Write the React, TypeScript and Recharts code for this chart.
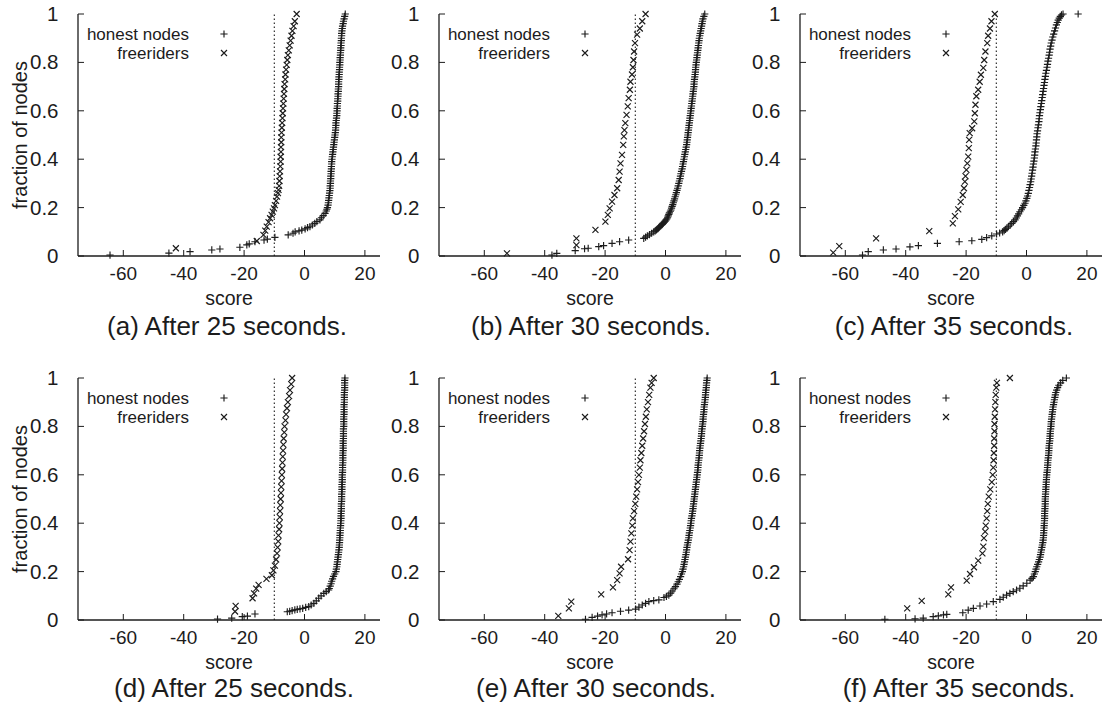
import { Legend, ReferenceLine, Scatter, ScatterChart, XAxis, YAxis } from 'recharts'

type Pt = [number, number] // [score, fraction of nodes]

const xTicks = [-60, -40, -20, 0, 20]
const yTicks = [0, 0.2, 0.4, 0.6, 0.8, 1]
const threshold = -10
const captions = [
  '(a) After 25 seconds.',
  '(b) After 30 seconds.',
  '(c) After 35 seconds.',
  '(d) After 25 seconds.',
  '(e) After 30 seconds.',
  '(f) After 35 seconds.',
]

// (a)
const honestA: Pt[] = [
  [-64.4, 0.004], [-44.9, 0.012], [-37.9, 0.018], [-30.7, 0.025], [-28, 0.029], [-21.4, 0.036],
  [-19.1, 0.046], [-18.3, 0.05], [-16.4, 0.059], [-13.4, 0.066], [-12.3, 0.07], [-9.8, 0.077],
  [-5.4, 0.087], [-3.8, 0.094], [-3.1, 0.1], [-1.8, 0.104], [-0.9, 0.107], [0.2, 0.112], [1, 0.117],
  [1.8, 0.121], [2.6, 0.128], [3.4, 0.135], [4.1, 0.142], [5.1, 0.149], [5.6, 0.158], [6.2, 0.167],
  [6.8, 0.176], [7.2, 0.186], [7.4, 0.193],
  [7.6, 0.2], [7.8, 0.21], [7.9, 0.22], [8.0, 0.23], [8.1, 0.24], [8.2, 0.25], [8.3, 0.26], [8.4, 0.27],
  [8.5, 0.28], [8.5, 0.29], [8.6, 0.3], [8.6, 0.31], [8.7, 0.32], [8.7, 0.33], [8.8, 0.34], [8.8, 0.35],
  [8.9, 0.36], [8.9, 0.37], [9.0, 0.38], [9.0, 0.39], [9.1, 0.4], [9.2, 0.41], [9.3, 0.42], [9.4, 0.43],
  [9.5, 0.44], [9.6, 0.45], [9.7, 0.46], [9.8, 0.47], [9.9, 0.48], [10.0, 0.49], [10.1, 0.5],
  [10.2, 0.51], [10.3, 0.52], [10.3, 0.53], [10.4, 0.54], [10.4, 0.55], [10.5, 0.56], [10.6, 0.57],
  [10.7, 0.58], [10.7, 0.59], [10.8, 0.6], [10.8, 0.61], [10.9, 0.62], [10.9, 0.63], [11.0, 0.64],
  [11.0, 0.65], [11.1, 0.66], [11.1, 0.67], [11.2, 0.68], [11.2, 0.69], [11.3, 0.7], [11.3, 0.71],
  [11.3, 0.72], [11.4, 0.73], [11.4, 0.74], [11.5, 0.75], [11.5, 0.76], [11.6, 0.77], [11.6, 0.78],
  [11.7, 0.79], [11.7, 0.8], [11.8, 0.81], [11.8, 0.82], [11.9, 0.83], [11.9, 0.84], [12.0, 0.85],
  [12.0, 0.86], [12.1, 0.87], [12.1, 0.88], [12.2, 0.89], [12.2, 0.9], [12.3, 0.91], [12.3, 0.92],
  [12.4, 0.93], [12.5, 0.94], [12.6, 0.95], [12.8, 0.96], [12.9, 0.97], [13.1, 0.98], [13.3, 0.99],
  [13.5, 1.0],
]
const freeA: Pt[] = [
  [-42.6, 0.032], [-15.8, 0.062], [-13.6, 0.087], [-13.0, 0.105], [-12.5, 0.121], [-11.9, 0.14],
  [-11.4, 0.156], [-10.9, 0.17], [-10.5, 0.183], [-10.1, 0.197], [-9.8, 0.21], [-9.4, 0.228],
  [-9.1, 0.245], [-8.8, 0.26], [-8.6, 0.273], [-8.4, 0.29], [-8.3, 0.31], [-8.2, 0.33], [-8.1, 0.35],
  [-8.0, 0.37], [-7.9, 0.39], [-7.9, 0.41], [-7.8, 0.43], [-7.8, 0.45], [-7.7, 0.47], [-7.7, 0.49],
  [-7.6, 0.51], [-7.5, 0.53], [-7.4, 0.55], [-7.3, 0.57], [-7.2, 0.59], [-7.1, 0.61], [-7.0, 0.63],
  [-6.9, 0.65], [-6.8, 0.67], [-6.7, 0.69], [-6.6, 0.71], [-6.4, 0.73], [-6.3, 0.75], [-6.1, 0.77],
  [-5.9, 0.79], [-5.7, 0.81], [-5.5, 0.83], [-5.2, 0.85], [-4.9, 0.87], [-4.6, 0.89], [-4.3, 0.91],
  [-4.0, 0.93], [-3.6, 0.95], [-3.2, 0.97], [-2.6, 1.0],
]

// (b)
const honestB: Pt[] = [
  [-37.6, 0.004], [-36, 0.011], [-29.9, 0.022], [-26.8, 0.03], [-25.6, 0.032], [-22.1, 0.039],
  [-20.5, 0.043], [-17.7, 0.052], [-15.2, 0.059], [-12.2, 0.066], [-7.2, 0.073], [-6.6, 0.078],
  [-6.0, 0.083], [-5.3, 0.088], [-4.6, 0.094], [-3.9, 0.1], [-3.4, 0.104], [-3.0, 0.108], [-2.6, 0.112],
  [-2.3, 0.116], [-2.0, 0.12], [-1.7, 0.124], [-1.3, 0.128], [-1.0, 0.132], [-0.7, 0.136], [-0.4, 0.14],
  [-0.1, 0.144], [0.2, 0.149], [0.5, 0.154], [0.7, 0.16], [0.9, 0.166], [1.1, 0.172], [1.3, 0.178],
  [1.6, 0.185], [1.8, 0.19], [2.0, 0.198], [2.2, 0.205], [2.4, 0.212], [2.6, 0.22], [2.8, 0.228],
  [3.0, 0.236], [3.2, 0.245], [3.4, 0.253], [3.6, 0.262], [3.8, 0.271], [4.0, 0.28], [4.2, 0.29],
  [4.4, 0.3], [4.6, 0.31], [4.8, 0.32], [4.95, 0.33], [5.1, 0.34], [5.3, 0.35], [5.5, 0.36], [5.65, 0.37],
  [5.8, 0.38], [5.95, 0.39], [6.1, 0.4], [6.25, 0.41], [6.4, 0.42], [6.55, 0.43], [6.7, 0.44],
  [6.85, 0.45], [7.0, 0.46], [7.1, 0.47], [7.2, 0.48], [7.3, 0.49], [7.4, 0.5], [7.5, 0.51], [7.6, 0.52],
  [7.7, 0.53], [7.8, 0.54], [7.9, 0.55], [8.0, 0.56], [8.1, 0.57], [8.2, 0.58], [8.3, 0.59], [8.4, 0.6],
  [8.5, 0.61], [8.6, 0.62], [8.7, 0.63], [8.8, 0.64], [8.9, 0.65], [9.0, 0.66], [9.1, 0.67], [9.2, 0.68],
  [9.3, 0.69], [9.4, 0.7], [9.45, 0.71], [9.5, 0.72], [9.6, 0.73], [9.7, 0.74], [9.8, 0.75], [9.9, 0.76],
  [9.95, 0.77], [10.0, 0.78], [10.1, 0.79], [10.2, 0.8], [10.3, 0.81], [10.4, 0.82], [10.5, 0.83],
  [10.6, 0.84], [10.7, 0.85], [10.8, 0.86], [10.9, 0.87], [11.0, 0.88], [11.1, 0.89], [11.2, 0.9],
  [11.35, 0.91], [11.5, 0.92], [11.65, 0.93], [11.8, 0.94], [11.95, 0.95], [12.1, 0.96], [12.25, 0.97],
  [12.4, 0.98], [12.7, 0.99], [13.0, 1.0],
]
const freeB: Pt[] = [
  [-52.5, 0.011], [-29.5, 0.045], [-29.5, 0.073], [-23.2, 0.108], [-19.9, 0.142], [-19.1, 0.17],
  [-18.5, 0.197], [-17.7, 0.225], [-16.9, 0.252], [-16.0, 0.28], [-15.5, 0.314], [-15.2, 0.349],
  [-14.9, 0.383], [-14.4, 0.418], [-14.0, 0.459], [-13.8, 0.494], [-13.6, 0.52], [-13.3, 0.549],
  [-12.9, 0.583], [-12.5, 0.618], [-12.2, 0.652], [-11.8, 0.687], [-11.6, 0.72], [-11.1, 0.75],
  [-10.8, 0.78], [-10.6, 0.81], [-10.4, 0.845], [-10.1, 0.88], [-9.4, 0.915], [-8.5, 0.94],
  [-7.7, 0.97], [-6.6, 1.0],
]

// (c)
const honestC: Pt[] = [
  [-54.3, 0.004], [-52.4, 0.018], [-47.4, 0.025], [-43.2, 0.029], [-38.6, 0.038], [-35.8, 0.043],
  [-29.5, 0.052], [-22.3, 0.059], [-18.1, 0.063], [-14.8, 0.069], [-13.2, 0.076], [-11.5, 0.083],
  [-9.9, 0.091], [-8.9, 0.095], [-7.9, 0.1], [-7.4, 0.105], [-7.0, 0.11], [-6.5, 0.115], [-6.0, 0.121],
  [-5.4, 0.128], [-4.9, 0.135], [-4.3, 0.142], [-3.8, 0.149], [-3.4, 0.157], [-3.0, 0.166],
  [-2.6, 0.174], [-2.2, 0.183], [-1.7, 0.191], [-1.3, 0.2], [-0.9, 0.209], [-0.5, 0.218], [-0.2, 0.228],
  [0.1, 0.238], [0.35, 0.248], [0.6, 0.259], [0.8, 0.271], [1.0, 0.283], [1.2, 0.295], [1.4, 0.307],
  [1.55, 0.318], [1.7, 0.33], [1.85, 0.342], [2.0, 0.355], [2.15, 0.367], [2.3, 0.38], [2.45, 0.392],
  [2.6, 0.405], [2.7, 0.417], [2.8, 0.43], [2.95, 0.442], [3.1, 0.455], [3.2, 0.467], [3.3, 0.48],
  [3.4, 0.492], [3.5, 0.505], [3.65, 0.517], [3.8, 0.53], [3.95, 0.542], [4.1, 0.555], [4.2, 0.567],
  [4.3, 0.58], [4.45, 0.592], [4.6, 0.605], [4.75, 0.617], [4.9, 0.63], [5.05, 0.642], [5.2, 0.655],
  [5.35, 0.667], [5.5, 0.68], [5.65, 0.692], [5.8, 0.705], [5.95, 0.717], [6.1, 0.73], [6.25, 0.742],
  [6.4, 0.755], [6.6, 0.767], [6.8, 0.78], [6.95, 0.792], [7.1, 0.805], [7.3, 0.817], [7.5, 0.83],
  [7.65, 0.842], [7.8, 0.855], [8.0, 0.867], [8.2, 0.88], [8.45, 0.892], [8.7, 0.905], [9.0, 0.917],
  [9.3, 0.93], [9.6, 0.942], [9.9, 0.955], [10.2, 0.965], [10.5, 0.975], [10.85, 0.983], [11.2, 0.99],
  [11.6, 0.996], [12.1, 1.0], [17.1, 1.0],
]
const freeC: Pt[] = [
  [-64, 0.014], [-62, 0.041], [-49.8, 0.073], [-32.2, 0.103], [-24.4, 0.135], [-23.7, 0.165],
  [-22.6, 0.193], [-21.8, 0.224], [-21.1, 0.252], [-20.7, 0.28], [-20.4, 0.307], [-20.2, 0.33],
  [-19.9, 0.356], [-19.6, 0.383], [-19.3, 0.411], [-19.1, 0.446], [-19.0, 0.48], [-18.8, 0.508],
  [-18.0, 0.528], [-17.3, 0.556], [-17.1, 0.59], [-16.9, 0.625], [-16.6, 0.66], [-16.0, 0.687],
  [-15.5, 0.72], [-15.1, 0.749], [-14.3, 0.777], [-14.0, 0.81], [-13.6, 0.845], [-13.0, 0.88],
  [-12.7, 0.91], [-12.1, 0.94], [-11.6, 0.97], [-10.5, 1.0],
]

// (d)
const honestD: Pt[] = [
  [-28.8, 0.004], [-24.1, 0.008], [-20.6, 0.014], [-18.9, 0.016], [-16.4, 0.025], [-5.7, 0.034],
  [-4.9, 0.036], [-4.1, 0.039], [-3.2, 0.042], [-2.4, 0.044], [-1.5, 0.046], [-0.6, 0.048], [0.4, 0.052],
  [1.4, 0.055], [2.2, 0.062], [3.1, 0.069], [3.9, 0.079], [4.7, 0.09], [5.5, 0.1], [6.4, 0.11],
  [7.2, 0.117], [8.0, 0.124], [8.2, 0.13], [8.5, 0.14], [8.8, 0.15], [9.0, 0.16], [9.3, 0.17],
  [9.6, 0.18], [10.0, 0.19], [10.4, 0.2], [10.55, 0.21], [10.7, 0.22], [10.8, 0.23], [10.9, 0.24],
  [11.0, 0.25], [11.1, 0.26], [11.2, 0.27], [11.3, 0.28], [11.4, 0.29], [11.5, 0.3], [11.55, 0.31],
  [11.6, 0.32], [11.65, 0.33], [11.7, 0.34], [11.75, 0.35], [11.8, 0.36], [11.85, 0.37], [11.9, 0.38],
  [11.95, 0.39], [12.0, 0.4], [12.05, 0.41], [12.1, 0.42], [12.1, 0.43], [12.1, 0.44], [12.2, 0.45],
  [12.2, 0.46], [12.2, 0.47], [12.2, 0.48], [12.3, 0.49], [12.3, 0.5], [12.3, 0.51], [12.3, 0.52],
  [12.4, 0.53], [12.4, 0.54], [12.4, 0.55], [12.4, 0.56], [12.5, 0.57], [12.5, 0.58], [12.5, 0.59],
  [12.5, 0.6], [12.6, 0.61], [12.6, 0.62], [12.6, 0.63], [12.6, 0.64], [12.7, 0.65], [12.7, 0.66],
  [12.7, 0.67], [12.7, 0.68], [12.7, 0.69], [12.8, 0.7], [12.8, 0.71], [12.8, 0.72], [12.8, 0.73],
  [12.8, 0.74], [12.9, 0.75], [12.9, 0.76], [12.9, 0.77], [12.9, 0.78], [12.9, 0.79], [13.0, 0.8],
  [13.0, 0.81], [13.0, 0.82], [13.0, 0.83], [13.0, 0.84], [13.1, 0.85], [13.1, 0.86], [13.1, 0.87],
  [13.1, 0.88], [13.1, 0.89], [13.2, 0.9], [13.2, 0.91], [13.2, 0.92], [13.2, 0.93], [13.2, 0.94],
  [13.3, 0.95], [13.3, 0.96], [13.3, 0.97], [13.3, 0.98], [13.3, 0.99], [13.4, 1.0],
]
const freeD: Pt[] = [
  [-23.0, 0.035], [-22.8, 0.058], [-17.2, 0.09], [-16.7, 0.11], [-16.0, 0.13], [-15.2, 0.145],
  [-12.6, 0.17], [-10.8, 0.185], [-10.3, 0.205], [-9.8, 0.225], [-9.4, 0.25], [-9.1, 0.275],
  [-8.9, 0.3], [-8.7, 0.325], [-8.6, 0.35], [-8.4, 0.375], [-8.3, 0.4], [-8.2, 0.425], [-8.1, 0.45],
  [-8.0, 0.475], [-7.9, 0.5], [-7.8, 0.525], [-7.7, 0.55], [-7.6, 0.575], [-7.5, 0.6], [-7.4, 0.625],
  [-7.3, 0.65], [-7.2, 0.675], [-7.1, 0.7], [-7.0, 0.725], [-6.9, 0.75], [-6.7, 0.775], [-6.6, 0.8],
  [-6.3, 0.825], [-6.1, 0.85], [-5.8, 0.875], [-5.5, 0.9], [-5.1, 0.925], [-4.8, 0.95], [-4.4, 0.975],
  [-4.1, 1.0],
]

// (e)
const honestE: Pt[] = [
  [-26.5, 0.003], [-24.3, 0.011], [-22.5, 0.016], [-21.0, 0.021], [-19.5, 0.025], [-17.7, 0.03],
  [-14.9, 0.036], [-12.2, 0.041], [-9.9, 0.045], [-8.8, 0.053], [-7.7, 0.062], [-6.6, 0.069],
  [-5.5, 0.076], [-3.9, 0.08], [-2.2, 0.083], [-0.5, 0.093], [0.3, 0.098], [1.1, 0.103], [1.7, 0.111],
  [2.2, 0.12], [2.8, 0.129], [3.3, 0.138], [3.8, 0.148], [4.2, 0.158], [4.6, 0.168], [5.0, 0.179],
  [5.3, 0.19], [5.6, 0.2], [5.8, 0.21], [6.0, 0.22], [6.15, 0.23], [6.3, 0.24], [6.45, 0.25], [6.6, 0.26],
  [6.75, 0.27], [6.9, 0.28], [7.0, 0.29], [7.1, 0.3], [7.25, 0.31], [7.4, 0.32], [7.55, 0.33], [7.7, 0.34],
  [7.8, 0.35], [7.9, 0.36], [8.05, 0.37], [8.2, 0.38], [8.3, 0.39], [8.4, 0.4], [8.5, 0.41], [8.6, 0.42],
  [8.75, 0.43], [8.9, 0.44], [9.0, 0.45], [9.1, 0.46], [9.2, 0.47], [9.3, 0.48], [9.4, 0.49], [9.5, 0.5],
  [9.6, 0.51], [9.7, 0.52], [9.8, 0.53], [9.9, 0.54], [10.0, 0.55], [10.1, 0.56], [10.2, 0.57],
  [10.3, 0.58], [10.4, 0.59], [10.5, 0.6], [10.6, 0.61], [10.7, 0.62], [10.75, 0.63], [10.8, 0.64],
  [10.9, 0.65], [11.0, 0.66], [11.1, 0.67], [11.2, 0.68], [11.25, 0.69], [11.3, 0.7], [11.4, 0.71],
  [11.5, 0.72], [11.6, 0.73], [11.7, 0.74], [11.8, 0.75], [11.9, 0.76], [11.95, 0.77], [12.0, 0.78],
  [12.1, 0.79], [12.2, 0.8], [12.3, 0.81], [12.4, 0.82], [12.45, 0.83], [12.5, 0.84], [12.6, 0.85],
  [12.7, 0.86], [12.75, 0.87], [12.8, 0.88], [12.9, 0.89], [13.0, 0.9], [13.1, 0.91], [13.2, 0.92],
  [13.25, 0.93], [13.3, 0.94], [13.4, 0.95], [13.5, 0.96], [13.55, 0.97], [13.6, 0.98], [13.7, 0.99],
  [13.8, 1.0],
]
const freeE: Pt[] = [
  [-35.5, 0.017], [-32.0, 0.048], [-31.2, 0.076], [-21.3, 0.106], [-17.4, 0.135], [-16.0, 0.165],
  [-15.2, 0.193], [-14.7, 0.22], [-12.4, 0.251], [-11.9, 0.289], [-11.6, 0.324], [-11.3, 0.358],
  [-11.0, 0.39], [-10.8, 0.42], [-10.4, 0.45], [-10.0, 0.48], [-9.7, 0.51], [-9.4, 0.54], [-9.1, 0.57],
  [-8.8, 0.6], [-8.5, 0.63], [-8.3, 0.66], [-8.0, 0.69], [-7.7, 0.72], [-7.4, 0.75], [-7.1, 0.78],
  [-6.8, 0.81], [-6.5, 0.84], [-6.2, 0.87], [-5.8, 0.9], [-5.4, 0.93], [-5.0, 0.96], [-4.6, 0.98],
  [-3.9, 1.0],
]

// (f)
const honestF: Pt[] = [
  [-46.9, 0.003], [-36.9, 0.005], [-34.2, 0.008], [-30.9, 0.014], [-29.2, 0.017], [-27.5, 0.021],
  [-26.4, 0.023], [-21.1, 0.03], [-19.3, 0.041], [-17.6, 0.048], [-15.4, 0.058], [-13.2, 0.066],
  [-11.0, 0.076], [-8.8, 0.085], [-7.7, 0.094], [-6.6, 0.103], [-5.5, 0.11], [-4.4, 0.117],
  [-3.3, 0.124], [-2.2, 0.131], [-1.1, 0.141], [0.1, 0.152], [1.2, 0.165], [1.8, 0.172], [2.3, 0.179],
  [2.6, 0.19], [2.9, 0.2], [3.15, 0.21], [3.4, 0.22], [3.7, 0.23], [4.0, 0.24], [4.25, 0.25], [4.5, 0.26],
  [4.65, 0.27], [4.8, 0.28], [4.95, 0.29], [5.1, 0.3], [5.25, 0.31], [5.4, 0.32], [5.5, 0.33], [5.6, 0.34],
  [5.65, 0.35], [5.7, 0.36], [5.75, 0.37], [5.8, 0.38], [5.85, 0.39], [5.9, 0.4], [5.95, 0.41],
  [6.0, 0.42], [6.0, 0.43], [6.0, 0.44], [6.05, 0.45], [6.1, 0.46], [6.15, 0.47], [6.2, 0.48],
  [6.2, 0.49], [6.2, 0.5], [6.25, 0.51], [6.3, 0.52], [6.35, 0.53], [6.4, 0.54], [6.45, 0.55],
  [6.5, 0.56], [6.55, 0.57], [6.6, 0.58], [6.65, 0.59], [6.7, 0.6], [6.8, 0.61], [6.9, 0.62],
  [6.95, 0.63], [7.0, 0.64], [7.05, 0.65], [7.1, 0.66], [7.2, 0.67], [7.3, 0.68], [7.35, 0.69],
  [7.4, 0.7], [7.45, 0.71], [7.5, 0.72], [7.6, 0.73], [7.7, 0.74], [7.75, 0.75], [7.8, 0.76],
  [7.85, 0.77], [7.9, 0.78], [8.0, 0.79], [8.1, 0.8], [8.15, 0.81], [8.2, 0.82], [8.3, 0.83],
  [8.4, 0.84], [8.5, 0.85], [8.6, 0.86], [8.7, 0.87], [8.8, 0.88], [8.95, 0.89], [9.1, 0.9],
  [9.25, 0.91], [9.4, 0.92], [9.55, 0.93], [9.7, 0.94], [10.0, 0.95], [10.3, 0.96], [10.7, 0.97],
  [11.3, 0.98], [12.0, 0.99], [13.2, 1.0],
]
const freeF: Pt[] = [
  [-39.5, 0.048], [-34.7, 0.079], [-25.9, 0.106], [-25.0, 0.135], [-19.8, 0.163], [-18.7, 0.19],
  [-17.4, 0.218], [-16.0, 0.245], [-14.6, 0.275], [-14.3, 0.303], [-14.1, 0.338], [-13.7, 0.365],
  [-13.5, 0.39], [-13.2, 0.42], [-13.0, 0.45], [-12.8, 0.48], [-12.5, 0.51], [-12.0, 0.54],
  [-11.5, 0.57], [-11.2, 0.6], [-11.0, 0.63], [-10.9, 0.66], [-10.8, 0.69], [-10.7, 0.72],
  [-10.7, 0.75], [-10.6, 0.78], [-10.6, 0.81], [-10.5, 0.84], [-10.4, 0.87], [-10.3, 0.9],
  [-10.2, 0.93], [-10.0, 0.96], [-9.8, 0.98], [-5.5, 1.0],
]

const INK = '#1c1c1c'
const FONT = '"Liberation Sans", Arial, Helvetica, sans-serif'

// plot box size and chart margins
const PW = 302
const PH = 242
const ML = 70
const MT = 14
const MR = 3
const XH = 86

const toRows = (pts: Pt[]) => pts.map(([x, y]) => ({ x, y }))

function PlusMark({ cx, cy }: { cx?: number; cy?: number }) {
  if (cx == null || cy == null) return null
  return (
    <path
      d={`M${cx - 3.6},${cy}H${cx + 3.6}M${cx},${cy - 3.6}V${cy + 3.6}`}
      stroke={INK}
      strokeWidth={1.15}
      fill="none"
    />
  )
}

function CrossMark({ cx, cy }: { cx?: number; cy?: number }) {
  if (cx == null || cy == null) return null
  return (
    <path
      d={`M${cx - 3},${cy - 3}L${cx + 3},${cy + 3}M${cx - 3},${cy + 3}L${cx + 3},${cy - 3}`}
      stroke={INK}
      strokeWidth={1.15}
      fill="none"
    />
  )
}

function BottomTick(p: any) {
  return (
    <g>
      <line x1={p.x} x2={p.x} y1={p.y} y2={p.y - 6} stroke={INK} />
      <text x={p.x} y={p.y + 23.5} textAnchor="middle" fontSize={19} fill={INK}>
        {p.payload.value}
      </text>
    </g>
  )
}

function LeftTick(p: any) {
  return (
    <g>
      <line x1={p.x} x2={p.x + 6} y1={p.y} y2={p.y} stroke={INK} />
      <text x={p.x - 19.5} y={p.y + 7} textAnchor="end" fontSize={20.5} fill={INK}>
        {p.payload.value}
      </text>
    </g>
  )
}

const TopTick = (p: any) => <line x1={p.x} x2={p.x} y1={p.y} y2={p.y + 6} stroke={INK} />
const RightTick = (p: any) => <line x1={p.x} x2={p.x - 6} y1={p.y} y2={p.y} stroke={INK} />

function LegendBox() {
  return (
    <svg width={170} height={50} style={{ overflow: 'visible', display: 'block' }}>
      <text x={111} y={26} textAnchor="end" fontSize={17} fill={INK}>honest nodes</text>
      <PlusMark cx={146} cy={20} />
      <text x={111} y={44.5} textAnchor="end" fontSize={17} fill={INK}>freeriders</text>
      <CrossMark cx={146} cy={39} />
    </svg>
  )
}

interface PanelProps {
  honest: Pt[]
  free: Pt[]
  caption: string
  left: number
  top: number
  yLabel: boolean
  capDx: number
  capDy: number
}

function Panel({ honest, free, caption, left, top, yLabel, capDx, capDy }: PanelProps) {
  const frame = { stroke: INK, strokeWidth: 1.3 }
  return (
    <div style={{ position: 'absolute', left: left - ML, top: top - MT }}>
      <ScatterChart
        width={ML + PW + MR}
        height={MT + PH + XH}
        margin={{ top: MT, right: MR, bottom: 0, left: 0 }}
      >
        <XAxis
          type="number"
          dataKey="x"
          domain={[-75, 25]}
          ticks={xTicks}
          interval={0}
          tickSize={0}
          tickMargin={0}
          height={XH}
          axisLine={frame}
          tickLine={false}
          tick={(p: any) => <BottomTick {...p} />}
          label={(p: any) => {
            const vb = p.viewBox
            const cx = vb.x + vb.width / 2
            return (
              <g>
                <text x={cx} y={vb.y + 49} textAnchor="middle" fontSize={19.5} fill={INK}>score</text>
                <text x={cx + capDx} y={vb.y + capDy} textAnchor="middle" fontSize={26} fill={INK}>
                  {caption}
                </text>
              </g>
            )
          }}
        />
        <XAxis
          xAxisId="top"
          orientation="top"
          type="number"
          dataKey="x"
          domain={[-75, 25]}
          allowDataOverflow
          ticks={xTicks}
          interval={0}
          tickSize={0}
          tickMargin={0}
          height={0}
          axisLine={frame}
          tickLine={false}
          tick={TopTick}
        />
        <YAxis
          type="number"
          dataKey="y"
          domain={[0, 1]}
          ticks={yTicks}
          interval={0}
          tickSize={0}
          tickMargin={0}
          width={ML}
          axisLine={frame}
          tickLine={false}
          tick={(p: any) => <LeftTick {...p} />}
          label={
            yLabel
              ? (p: any) => {
                  const vb = p.viewBox
                  const cx = 19
                  const cy = vb.y + vb.height / 2
                  return (
                    <text
                      x={cx}
                      y={cy}
                      transform={`rotate(-90 ${cx} ${cy})`}
                      textAnchor="middle"
                      fontSize={20}
                      fill={INK}
                    >
                      fraction of nodes
                    </text>
                  )
                }
              : undefined
          }
        />
        <YAxis
          yAxisId="right"
          orientation="right"
          type="number"
          dataKey="y"
          domain={[0, 1]}
          allowDataOverflow
          ticks={yTicks}
          interval={0}
          tickSize={0}
          tickMargin={0}
          width={0}
          axisLine={frame}
          tickLine={false}
          tick={RightTick}
        />
        <ReferenceLine x={threshold} stroke={INK} strokeWidth={1.1} strokeDasharray="1.5 2.5" />
        <Scatter
          data={toRows(free)}
          shape={(p: any) => <CrossMark cx={p.cx} cy={p.cy} />}
          isAnimationActive={false}
        />
        <Scatter
          data={toRows(honest)}
          shape={(p: any) => <PlusMark cx={p.cx} cy={p.cy} />}
          isAnimationActive={false}
        />
        <Legend
          layout="horizontal"
          verticalAlign="middle"
          align="center"
          wrapperStyle={{ left: ML, top: MT, width: 170, height: 50 }}
          content={() => <LegendBox />}
        />
      </ScatterChart>
    </div>
  )
}

const panels = [
  { honest: honestA, free: freeA, left: 78, top: 14.3, capDx: -2, capDy: 79 },
  { honest: honestB, free: freeB, left: 438.5, top: 14.3, capDx: 1, capDy: 79 },
  { honest: honestC, free: freeC, left: 800, top: 14.3, capDx: 3, capDy: 79 },
  { honest: honestD, free: freeD, left: 78, top: 378.3, capDx: 5, capDy: 76.5 },
  { honest: honestE, free: freeE, left: 438.5, top: 378.3, capDx: 6, capDy: 76.5 },
  { honest: honestF, free: freeF, left: 800, top: 378.3, capDx: 8, capDy: 76.5 },
]

export default function App() {
  return (
    <div
      style={{
        position: 'absolute',
        left: 0,
        top: 0,
        width: 1105,
        height: 704,
        overflow: 'hidden',
        background: '#fff',
        fontFamily: FONT,
        color: INK,
      }}
    >
      {panels.map((p, i) => (
        <Panel
          key={i}
          honest={p.honest}
          free={p.free}
          caption={captions[i]}
          left={p.left}
          top={p.top}
          yLabel={i % 3 === 0}
          capDx={p.capDx}
          capDy={p.capDy}
        />
      ))}
    </div>
  )
}
